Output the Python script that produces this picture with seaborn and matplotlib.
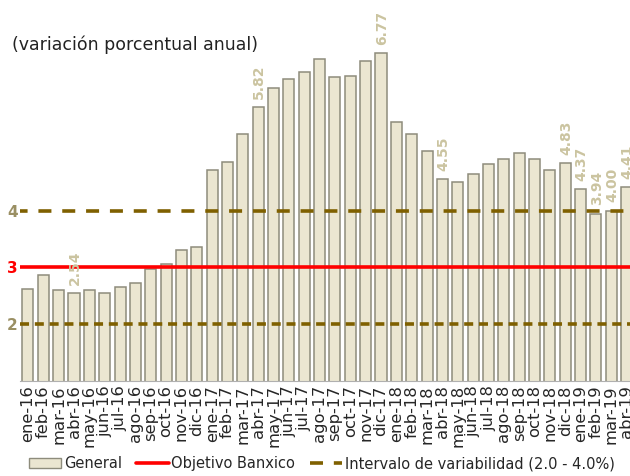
import numpy as np
import pandas as pd
import seaborn as sns
import matplotlib.pyplot as plt
from matplotlib.patches import Patch
from matplotlib.lines import Line2D

# months and annual inflation (%)
months = ["ene-16", "feb-16", "mar-16", "abr-16", "may-16", "jun-16", "jul-16", "ago-16",
          "sep-16", "oct-16", "nov-16", "dic-16",
          "ene-17", "feb-17", "mar-17", "abr-17", "may-17", "jun-17", "jul-17", "ago-17",
          "sep-17", "oct-17", "nov-17", "dic-17",
          "ene-18", "feb-18", "mar-18", "abr-18", "may-18", "jun-18", "jul-18", "ago-18",
          "sep-18", "oct-18", "nov-18", "dic-18",
          "ene-19", "feb-19", "mar-19", "abr-19"]
general = [2.61, 2.87, 2.60, 2.54, 2.60, 2.54, 2.65, 2.73, 2.97, 3.06, 3.31, 3.36,
           4.72, 4.86, 5.35, 5.82, 6.16, 6.31, 6.44, 6.66, 6.35, 6.37, 6.63, 6.77,
           5.55, 5.34, 5.04, 4.55, 4.51, 4.65, 4.81, 4.90, 5.02, 4.90, 4.72, 4.83,
           4.37, 3.94, 4.00, 4.41]
labelled = ["abr-16", "abr-17", "dic-17", "abr-18", "dic-18", "ene-19", "feb-19", "mar-19", "abr-19"]
objetivo = 3.0
intervalo_inf = 2.0
intervalo_sup = 4.0

df = pd.DataFrame({"mes": months, "general": general})

sns.set_style("white")
plt.rcParams['font.family'] = ['DejaVu Sans']

fig = plt.figure(figsize=(6.3, 4.76), dpi=100)
ax = fig.add_axes([0.0322, 0.1996, 0.9746, 0.776])

sns.barplot(data=df, x="mes", y="general", color="#EBE6D1", saturation=1,
            width=0.72, edgecolor="#8E8C7C", linewidth=1.1, ax=ax)

gold = "#7F6000"
ax.axhline(objetivo, color="#FF0000", lw=2.6, zorder=3)
ax.axhline(intervalo_sup, color=gold, lw=2.6, ls=(1.5, (3.6, 3.0)), zorder=3)
ax.axhline(intervalo_inf, color=gold, lw=2.6, ls=(0, (2.5, 1.6)), zorder=3)

pos = {m: i for i, m in enumerate(months)}
for m in labelled:
    i = pos[m]
    ax.text(i + 0.05, general[i] + 0.15, f"{general[i]:.2f}", rotation=90,
            ha="center", va="bottom", fontsize=10, fontweight="bold",
            color="#CBC4A0", zorder=4)

ax.set_ylim(1, 7.5)
ax.set_xlim(-0.5, len(months) - 0.5)
ax.set_yticks([2, 3, 4])
ax.set_yticklabels(["2", "3", "4"], fontsize=11, fontweight="bold")
for t, c in zip(ax.get_yticklabels(), ["#9A8F63", "#FF0000", "#9A8F63"]):
    t.set_color(c)
ax.tick_params(axis="y", length=0, pad=2)
ax.set_xticks(range(len(months)))
ax.set_xticklabels(months, rotation=90, fontsize=11.8)
ax.set_xticks(np.arange(-0.5, len(months)), minor=True)
ax.tick_params(axis="x", which="major", length=0, pad=3)
ax.tick_params(axis="x", which="minor", length=5, color="#A0A0A0", width=0.8)
ax.set_xlabel("")
ax.set_ylabel("")
for s in ["top", "right", "left"]:
    ax.spines[s].set_visible(False)
ax.spines["bottom"].set_color("#B0B0B0")

fig.text(0.019, 0.905, "(variación porcentual anual)", fontsize=12.5, color="#222222",
         va="center")

handles = [Patch(facecolor="#EBE6D1", edgecolor="#8E8C7C"),
           Line2D([], [], color="#FF0000", lw=2.6),
           Line2D([], [], color=gold, lw=2.6, ls=(0, (3.6, 3.0)))]
fig.legend(handles, ["General", "Objetivo Banxico", "Intervalo de variabilidad (2.0 - 4.0%)"],
           loc="lower left", bbox_to_anchor=(0.025, -0.018), ncol=3, frameon=False,
           fontsize=10.5, handlelength=2.2, handletextpad=0.2, columnspacing=1.0)

fig.savefig("out.png", dpi=100)
